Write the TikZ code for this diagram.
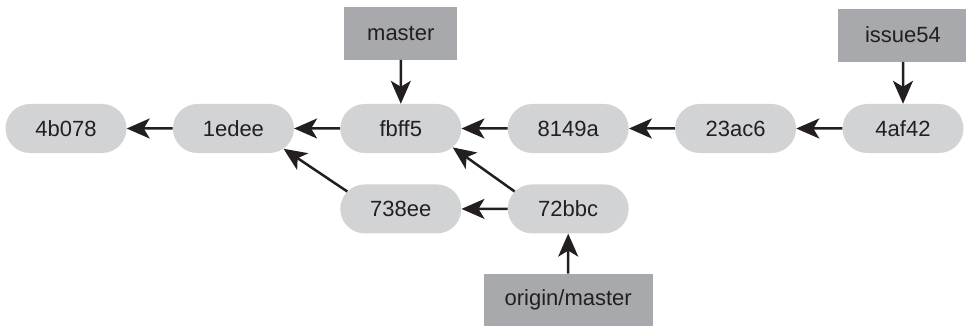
\documentclass[tikz,border=0pt]{standalone}
\usepackage{fontspec}
\setmainfont{Liberation Sans}
\usetikzlibrary{positioning,arrows.meta,shapes.misc}

\definecolor{commitgray}{RGB}{209,211,212}
\definecolor{branchgray}{RGB}{167,169,172}
\definecolor{inkdark}{RGB}{35,31,32}

\begin{document}
\begin{tikzpicture}[node distance=46pt,
  every node/.style={font=\fontsize{22}{26}\selectfont, text=inkdark},
  commit/.style={rounded rectangle, fill=commitgray, minimum width=121pt, minimum height=49pt, inner sep=0pt},
  branch/.style={rectangle, fill=branchgray, minimum width=113pt, minimum height=53pt, inner sep=0pt},
  link/.style={-{Stealth[length=23pt, width=20pt, inset=6pt]}, line width=2.5pt, draw=inkdark}]
\useasboundingbox (0pt,0pt) rectangle (966pt,-326pt);

% Commits, newest on the right
\node (c4b078) [commit] at (66pt,-128.5pt) {4b078};
\node (c1edee) [commit, right=of c4b078] {1edee};
\node (cfbff5) [commit, right=of c1edee] {fbff5};
\node (c8149a) [commit, right=of cfbff5] {8149a};
\node (c23ac6) [commit, right=of c8149a] {23ac6};
\node (c4af42) [commit, right=of c23ac6] {4af42};

\node (c738ee) [commit, below=31pt of cfbff5] {738ee};
\node (c72bbc) [commit, right=of c738ee] {72bbc};

% Branch labels
\node (master) [branch, above=44pt of cfbff5] {master};
\node (issue54) [branch, above=42pt of c4af42, minimum width=130pt] {issue54};
\node (origin) [branch, below=40pt of c72bbc, minimum width=169pt] {origin/master};

% Parent links
\draw[link] (c1edee) -- (c4b078);
\draw[link] (cfbff5) -- (c1edee);
\draw[link] (c8149a) -- (cfbff5);
\draw[link] (c23ac6) -- (c8149a);
\draw[link] (c4af42) -- (c23ac6);
\draw[link] (c72bbc) -- (c738ee);
\draw[link] (c738ee.162) -- (c1edee.338);
\draw[link] (c72bbc.162) -- (cfbff5.340);

% Branch pointers
\draw[link] (master) -- (cfbff5);
\draw[link] (issue54) -- (c4af42);
\draw[link] (origin) -- (c72bbc);
\end{tikzpicture}
\end{document}
